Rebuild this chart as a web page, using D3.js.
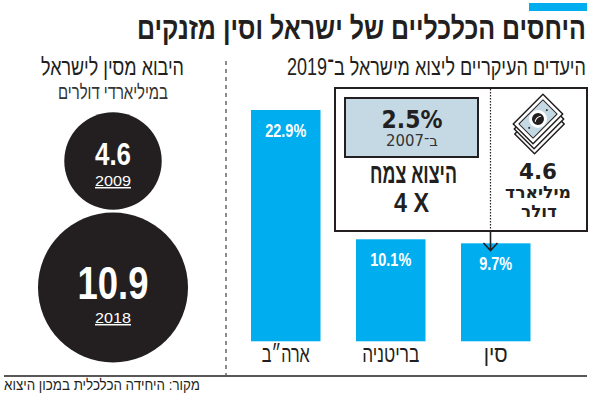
<!DOCTYPE html>
<html lang="he"><head><meta charset="utf-8">
<style>html,body{margin:0;padding:0;background:#fff}svg{display:block}</style>
<script src="https://cdnjs.cloudflare.com/ajax/libs/d3/7.8.5/d3.min.js"></script>
</head><body><div id="c"></div>
<script>
const categories = ["ארה״ב", "בריטניה", "סין"];
const exportShare = [22.9, 10.1, 9.7];
const importYears = ["2009", "2018"];
const importValues = [4.6, 10.9];

const W = 590, H = 395, ink = "#231f20", blue = "#00aeef", paleBlue = "#c5d9e4";
const svg = d3.select("#c").append("svg").attr("width", W).attr("height", H);
const font = "'Liberation Sans', Arial, sans-serif";
const wide = "'DejaVu Sans', sans-serif";

function txt(cx, y, s, size, width, opt = {}) {
  const t = svg.append("text").text(s)
    .attr("text-anchor", "middle")
    .attr("font-family", opt.family || font)
    .attr("font-size", size)
    .attr("font-weight", opt.weight || "normal")
    .attr("fill", opt.fill || ink);
  const m = t.node().getComputedTextLength();
  t.attr("transform", `translate(${cx},${y}) scale(${width / m},1)`);
  return t;
}

// header
svg.append("rect").attr("x", 529).attr("y", 3).attr("width", 58).attr("height", 8).attr("fill", blue);
txt(361.5, 38.5, "היחסים הכלכליים של ישראל וסין מזנקים", 31, 449, {weight: "bold"});
txt(436.5, 75, "היעדים העיקריים ליצוא מישראל ב־2019", 24, 299);
txt(112.5, 75, "היבוא מסין לישראל", 24, 143);
txt(113, 99, "במיליארדי דולרים", 20, 110, {fill: "#333"});

// separators
svg.append("line").attr("x1", 226).attr("x2", 226).attr("y1", 61).attr("y2", 375)
  .attr("stroke", "#666").attr("stroke-width", 1.5).attr("stroke-dasharray", "4 4");
svg.append("line").attr("x1", 4).attr("x2", 587).attr("y1", 376).attr("y2", 376)
  .attr("stroke", ink).attr("stroke-width", 1.5);
txt(102, 389.5, "מקור: היחידה הכלכלית במכון היצוא", 15, 196);

// bars
const x = d3.scaleBand().domain(categories).range([251, 530.5]).paddingInner(0.338).paddingOuter(0);
const y = d3.scaleLinear().domain([0, 22.9]).range([341.3, 110]);
svg.selectAll("rect.bar").data(categories).join("rect").attr("class", "bar")
  .attr("x", d => x(d)).attr("width", x.bandwidth())
  .attr("y", (d, i) => y(exportShare[i])).attr("height", (d, i) => y(0) - y(exportShare[i]))
  .attr("fill", blue);
categories.forEach((c, i) => {
  const cx = x(c) + x.bandwidth() / 2;
  txt(cx, y(exportShare[i]) + 27, exportShare[i] + "%", 19, i === 2 ? 33 : 41, {weight: "bold", fill: "#fff"});
  txt(cx, 362, c, 23, [48, 57, 24][i]);
});

// import circles
const r = d3.scaleSqrt().domain([0, 10.9]).range([0, 75]);
const cy = [161, 287.5], cxC = 113;
importValues.forEach((v, i) => {
  svg.append("circle").attr("cx", cxC).attr("cy", cy[i]).attr("r", r(v)).attr("fill", ink);
});
txt(cxC, 165, String(importValues[0]), 31, 36, {weight: "bold", fill: "#fff"});
txt(cxC, 299, String(importValues[1]), 47, 71, {weight: "bold", fill: "#fff"});
txt(cxC, 186, importYears[0], 15, 36, {fill: "#fff"}).attr("text-decoration", "underline");
txt(cxC, 323, importYears[1], 15, 36, {fill: "#fff"}).attr("text-decoration", "underline");

// callout box
svg.append("rect").attr("x", 335).attr("y", 88).attr("width", 252).attr("height", 143)
  .attr("fill", "#fff").attr("stroke", ink).attr("stroke-width", 2);
svg.append("line").attr("x1", 490.5).attr("x2", 490.5).attr("y1", 89).attr("y2", 231)
  .attr("stroke", ink).attr("stroke-width", 1.2).attr("stroke-dasharray", "1.5 1.5");
svg.append("path").attr("d", "M490.5 231V250M483.5 243L490.5 250.5L497.5 243")
  .attr("fill", "none").attr("stroke", ink).attr("stroke-width", 1.6);
svg.append("rect").attr("x", 345).attr("y", 98).attr("width", 133).attr("height", 59)
  .attr("fill", paleBlue).attr("stroke", ink).attr("stroke-width", 2);
txt(412, 128, "2.5%", 24, 61, {family: wide, weight: "bold"});
txt(412, 146, "ב־2007", 15, 52, {family: wide, fill: "#333"});
txt(413.5, 183, "היצוא צמח", 28, 87, {weight: "bold"});
txt(411.5, 212, "4 X", 28, 35, {weight: "bold"});
txt(538, 179, "4.6", 22, 38, {family: wide, weight: "bold"});
txt(538, 198, "מיליארד", 17, 66, {family: wide, weight: "bold"});
txt(539, 217, "דולר", 17, 36, {family: wide, weight: "bold"});

// banknote icon
[[539.5, 129], [539, 124], [538, 119]].forEach(([ix, iy], k) => {
  const g = svg.append("g").attr("transform", `translate(${ix},${iy}) rotate(-45)`)
    .attr("stroke", ink).attr("stroke-width", 1.5).attr("stroke-linejoin", "round");
  g.append("rect").attr("x", -21).attr("y", -14).attr("width", 42).attr("height", 28).attr("fill", "#fff");
  if (k === 2) {
    g.append("rect").attr("x", -17).attr("y", -10).attr("width", 34).attr("height", 20)
      .attr("fill", paleBlue).attr("stroke-width", 1);
    g.append("circle").attr("r", 9).attr("fill", "#fff").attr("stroke", "none");
    g.append("circle").attr("r", 6).attr("fill", ink).attr("stroke", "none");
    g.append("path").attr("d", "M-4 0Q0 -3 4 0").attr("fill", "none").attr("stroke", "#fff").attr("stroke-width", 1);
    [-12.5, 12.5].forEach(d => g.append("circle").attr("cx", d).attr("r", 1).attr("fill", ink).attr("stroke", "none"));
  }
});
</script></body></html>
